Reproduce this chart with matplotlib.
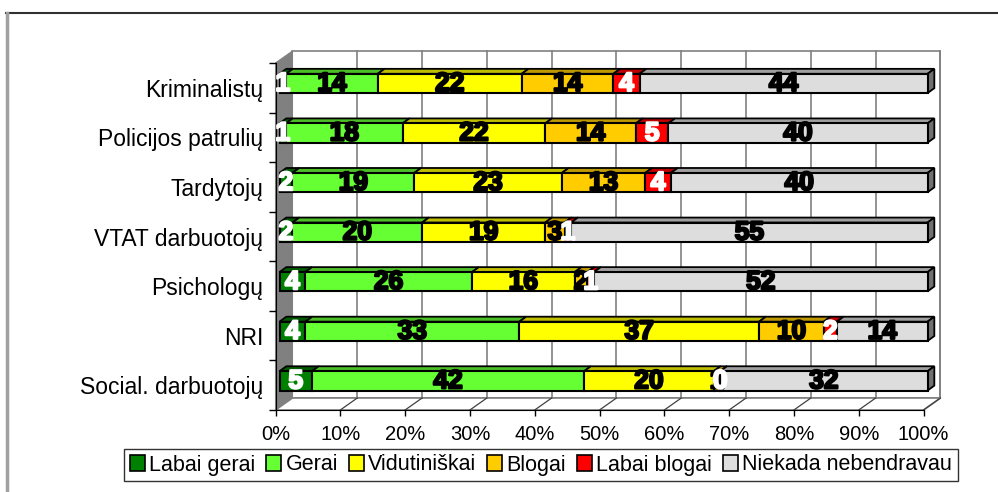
import matplotlib
matplotlib.use("Agg")
import matplotlib.pyplot as plt
import matplotlib.patheffects as pe
from matplotlib.patches import Polygon, Patch
from matplotlib.lines import Line2D
import numpy as np

# data (percent of respondents)
categories = ['Kriminalistų', 'Policijos patrulių', 'Tardytojų', 'VTAT darbuotojų',
              'Psichologų', 'NRI', 'Social. darbuotojų']
labai_gerai = [1, 1, 2, 2, 4, 4, 5]
gerai = [14, 18, 19, 20, 26, 33, 42]
vidutiniskai = [22, 22, 23, 19, 16, 37, 20]
blogai = [14, 14, 13, 3, 2, 10, 1]
labai_blogai = [4, 5, 4, 1, 1, 2, 0]
niekada = [44, 40, 40, 55, 52, 14, 32]

series_names = ['Labai gerai', 'Gerai', 'Vidutiniškai', 'Blogai', 'Labai blogai',
                'Niekada nebendravau']
series = [labai_gerai, gerai, vidutiniskai, blogai, labai_blogai, niekada]
colors = ['#008000', '#66FF33', '#FFFF00', '#FFCC00', '#FF0000', '#DDDDDD']
top_colors = ['#005A00', '#4CBF26', '#BFBF00', '#BF9900', '#BF0000', '#A0A0A0']
label_colors = ['white', 'black', 'black', 'black', 'white', 'black']

W, H = 998, 492
fig = plt.figure(figsize=(W / 100, H / 100), dpi=100)
ax = fig.add_axes([275.5 / W, 82 / H, 648 / W, 347 / H])
ax.set_xlim(0, 100)
ax.set_ylim(6.5, -0.5)

# 3d look: depth of the walls and bars (in data units)
ddx, ddy = 2.62, -0.242
bdx, bdy = 1.05, -0.10
off_x, off_y = 0.62, -0.087
bar_h = 0.39

# walls and floor
grid_c = '#808080'
ax.add_patch(Polygon([(ddx, -0.5 + ddy), (100 + ddx, -0.5 + ddy), (100 + ddx, 6.5 + ddy),
                      (ddx, 6.5 + ddy)], closed=True, facecolor='white', edgecolor=grid_c,
                     lw=1.2, clip_on=False, zorder=0))
ax.add_patch(Polygon([(0, -0.5), (ddx, -0.5 + ddy), (ddx, 6.5 + ddy), (0, 6.5)], closed=True,
                     facecolor='#808080', edgecolor='#808080', lw=0.8, clip_on=False, zorder=0.5))
ax.add_patch(Polygon([(0, 6.5), (100, 6.5), (100 + ddx, 6.5 + ddy), (ddx, 6.5 + ddy)],
                     closed=True, facecolor='white', edgecolor=grid_c, lw=1.2,
                     clip_on=False, zorder=0.5))
for t in range(10, 101, 10):
    ax.plot([t + ddx, t + ddx], [-0.5 + ddy, 6.5 + ddy], color=grid_c, lw=1.2,
            clip_on=False, zorder=0.6)
    ax.plot([t, t + ddx], [6.5, 6.5 + ddy], color='#404040', lw=0.9, clip_on=False, zorder=0.6)

# bars
y = np.arange(len(categories))
vals = np.array(series, dtype=float)
totals = vals.sum(axis=0)
pct = vals / totals * 100
cum = np.vstack([np.zeros(len(categories)), np.cumsum(pct, axis=0)])

for i in range(len(categories)):
    yc = y[i] + off_y
    yt = yc - bar_h / 2
    yb = yc + bar_h / 2
    for s in range(len(series)):
        a = cum[s, i] + off_x
        b = cum[s + 1, i] + off_x
        ax.add_patch(Polygon([(a, yt), (b, yt), (b + bdx, yt + bdy), (a + bdx, yt + bdy)],
                             closed=True, facecolor=top_colors[s], edgecolor='black',
                             lw=1.3, clip_on=False, zorder=2))
    end = cum[-1, i] + off_x
    ax.add_patch(Polygon([(end, yt), (end + bdx, yt + bdy), (end + bdx, yb + bdy), (end, yb)],
                         closed=True, facecolor='#707070', edgecolor='black', lw=1.3,
                         clip_on=False, zorder=2))

for s in range(len(series)):
    ax.barh(y + off_y, pct[s], left=cum[s] + off_x, height=bar_h, color=colors[s],
            edgecolor='black', linewidth=1.5, zorder=3, clip_on=False)

for s in range(len(series)):
    for i in range(len(categories)):
        xc = (cum[s, i] + cum[s + 1, i]) / 2 + off_x
        ax.text(xc, y[i] + off_y + 0.01, str(series[s][i]), ha='center', va='center',
                fontsize=19, fontweight='bold', family='Liberation Sans',
                color=label_colors[s], zorder=5 + s,
                path_effects=[pe.withStroke(linewidth=1.6, foreground=label_colors[s])])

# axes
for side in ['top', 'right']:
    ax.spines[side].set_visible(False)
ax.spines['left'].set_color('black')
ax.spines['bottom'].set_color('black')
ax.spines['left'].set_zorder(1)
ax.spines['bottom'].set_zorder(1)
ax.set_facecolor('none')

ax.set_xticks(np.arange(0, 101, 10))
ax.set_xticklabels([f'{t}%' for t in range(0, 101, 10)], family='Liberation Sans', fontsize=14.5)
ax.tick_params(axis='x', length=4, width=1, pad=7)

ax.set_yticks(y)
ax.set_yticklabels(categories, family='Liberation Sans', fontsize=16.5)
ax.set_yticks(np.arange(-0.5, 7, 1), minor=True)
ax.tick_params(axis='y', which='major', length=0, pad=9)
ax.tick_params(axis='y', which='minor', length=5, width=1)

# legend
handles = [Patch(facecolor=c, edgecolor='black', lw=1.2) for c in colors]
leg = fig.legend(handles, series_names, loc='center', bbox_to_anchor=(541 / W, 1 - 465 / H),
                 ncol=6, frameon=True, fancybox=False, edgecolor='black',
                 prop={'family': 'Liberation Sans', 'size': 15.5},
                 handlelength=0.7, handleheight=0.7, handletextpad=0.2,
                 columnspacing=0.5, borderpad=0.25, borderaxespad=0)
leg.get_frame().set_linewidth(1.0)

# chart border (top and left only visible)
fig.add_artist(Line2D([6 / W, 1], [1 - 12.5 / H, 1 - 12.5 / H], color='#303030', lw=1.5,
                      transform=fig.transFigure))
fig.add_artist(Line2D([6.5 / W, 6.5 / W], [0, 1 - 12.5 / H], color='#A0A0A0', lw=2.5,
                      transform=fig.transFigure))

fig.savefig('out.png', dpi=100)
